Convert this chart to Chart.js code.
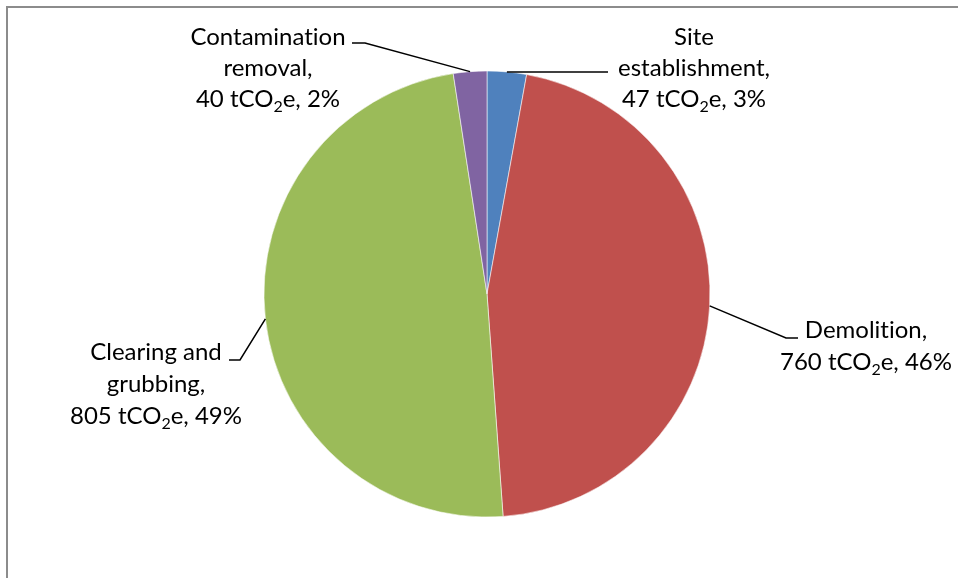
<!DOCTYPE html>
<html>
<head>
<meta charset="utf-8">
<script src="https://cdn.jsdelivr.net/npm/chart.js@4.4.0/dist/chart.umd.min.js"></script>
<style>
  html, body { margin: 0; padding: 0; background: #fff; }
  #wrap { width: 958px; height: 578px; position: relative; }
</style>
</head>
<body>
<div id="wrap"><canvas id="pie" width="958" height="578"></canvas></div>
<script>
const categories = ["Site establishment", "Demolition", "Clearing and grubbing", "Contamination removal"];
const labelLines = [["Site", "establishment,"], ["Demolition,"], ["Clearing and", "grubbing,"], ["Contamination", "removal,"]];
const emissions = [47, 760, 805, 40]; // tCO2e
const colors = ["#4F81BD", "#C0504D", "#9BBB59", "#8064A2"];

// where each label sits: centre x, first baseline, line step, elbow, end of leader
const labelLayout = [
  { cx: 694, y: 45, step: 31, elbow: [608, 72], end: [608, 72] },
  { cx: 866, y: 338, step: 32, elbow: [786, 338], end: [798, 338] },
  { cx: 156, y: 360, step: 32, elbow: [240, 360], end: [229, 360] },
  { cx: 268, y: 45, step: 31, elbow: [365, 43], end: [352, 43] },
];

const FONT = "Lato, 'Open Sans', sans-serif";
const SIZE = 24;

function drawValueLine(ctx, cx, y, value, pct) {
  const a = value + " tCO", b = "2", c = "e, " + pct + "%";
  ctx.font = SIZE + "px " + FONT;
  const wa = ctx.measureText(a).width, wc = ctx.measureText(c).width;
  ctx.font = Math.round(SIZE * 0.65) + "px " + FONT;
  const wb = ctx.measureText(b).width;
  let x = cx - (wa + wb + wc) / 2;
  ctx.textAlign = "left";
  ctx.font = SIZE + "px " + FONT;
  ctx.fillText(a, x, y); x += wa;
  ctx.font = Math.round(SIZE * 0.65) + "px " + FONT;
  ctx.fillText(b, x, y + 5); x += wb;
  ctx.font = SIZE + "px " + FONT;
  ctx.fillText(c, x, y);
}

const framePlugin = {
  id: "frame",
  beforeDraw(chart) {
    const ctx = chart.ctx;
    ctx.save();
    ctx.fillStyle = "#fff";
    ctx.fillRect(0, 0, chart.width, chart.height);
    ctx.strokeStyle = "#8c8c8c";
    ctx.lineWidth = 2;
    ctx.beginPath();
    ctx.moveTo(7, chart.height);
    ctx.lineTo(7, 7);
    ctx.lineTo(chart.width, 7);
    ctx.stroke();
    ctx.restore();
  }
};

const labelPlugin = {
  id: "sliceLabels",
  afterDatasetsDraw(chart) {
    const ctx = chart.ctx;
    const meta = chart.getDatasetMeta(0);
    const total = emissions.reduce((s, v) => s + v, 0);
    ctx.save();
    // no "ti" ligature, Calibri in the original has none
    ctx.textRendering = "optimizeSpeed";
    meta.data.forEach((arc, i) => {
      const p = arc.getProps(["x", "y", "startAngle", "endAngle", "outerRadius"], true);
      const mid = (p.startAngle + p.endAngle) / 2;
      const sx = p.x + Math.cos(mid) * p.outerRadius;
      const sy = p.y + Math.sin(mid) * p.outerRadius;
      const L = labelLayout[i];
      ctx.strokeStyle = "#000";
      ctx.lineWidth = 1.5;
      ctx.beginPath();
      ctx.moveTo(sx, sy);
      ctx.lineTo(L.elbow[0], L.elbow[1]);
      ctx.lineTo(L.end[0], L.end[1]);
      ctx.stroke();

      ctx.fillStyle = "#000";
      ctx.textBaseline = "alphabetic";
      ctx.textAlign = "center";
      ctx.font = SIZE + "px " + FONT;
      labelLines[i].forEach((t, k) => ctx.fillText(t, L.cx, L.y + k * L.step));
      const pct = Math.round(emissions[i] / total * 100);
      drawValueLine(ctx, L.cx, L.y + labelLines[i].length * L.step, emissions[i], pct);
    });
    ctx.restore();
  }
};

new Chart(document.getElementById("pie"), {
  type: "pie",
  data: {
    labels: categories,
    datasets: [{
      data: emissions,
      backgroundColor: colors,
      borderColor: "rgba(255,255,255,0.55)",
      borderWidth: 1,
    }],
  },
  options: {
    responsive: false,
    animation: false,
    events: [],
    radius: 223,
    layout: { padding: { top: 71, bottom: 61, left: 100, right: 84 } },
    plugins: { legend: { display: false }, tooltip: { enabled: false } },
  },
  plugins: [framePlugin, labelPlugin],
});
</script>
</body>
</html>
